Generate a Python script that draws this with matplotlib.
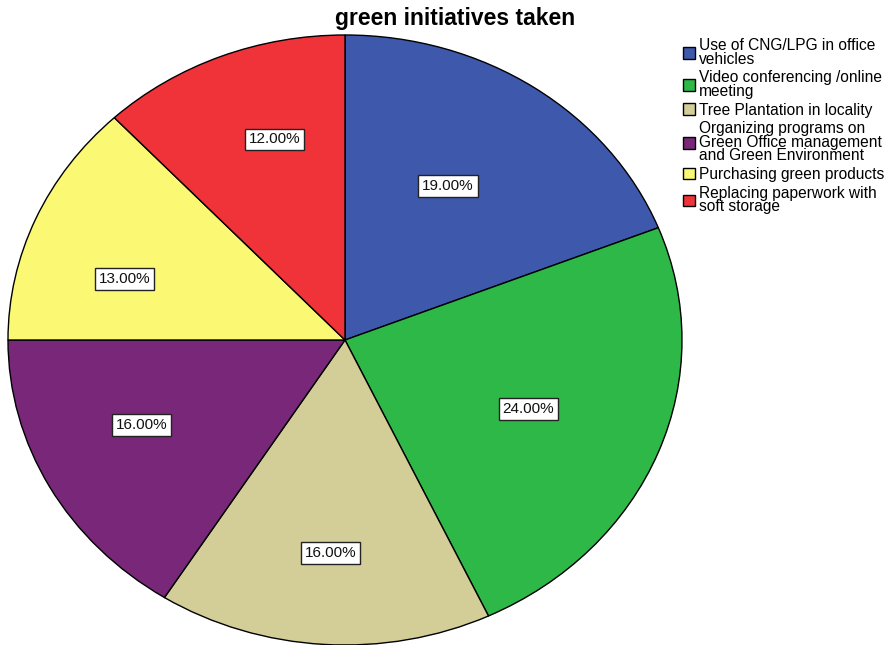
import matplotlib
matplotlib.use("Agg")
import numpy as np
import matplotlib.pyplot as plt

plt.rcParams['font.family'] = ['Liberation Sans', 'DejaVu Sans']

categories = [
    "Use of CNG/LPG in office\nvehicles",
    "Video conferencing /online\nmeeting",
    "Tree Plantation in locality",
    "Organizing programs on\nGreen Office management\nand Green Environment",
    "Purchasing green products",
    "Replacing paperwork with\nsoft storage",
]
shares = [19.0, 24.0, 16.0, 16.0, 13.0, 12.0]
colors = ["#3E58AC", "#2EB848", "#D3CD97", "#792779", "#FBF873", "#EF3338"]
# placement of each percentage label: radial fraction and angular nudge (deg)
label_dist = [0.59, 0.59, 0.70, 0.665, 0.685, 0.69]
label_nudge = [3.0, -1.0, 0.0, -4.0, 6.4, -4.0]

W, H = 896, 645
fig = plt.figure(figsize=(W / 100, H / 100), dpi=100)

# pie occupies an elliptical region (wider than tall)
left, right, top, bottom = 8, 682, 35, 645
ax = fig.add_axes([left / W, 1 - bottom / H, (right - left) / W, (bottom - top) / H])
wedges, texts, autotexts = ax.pie(
    shares, colors=colors, startangle=90, counterclock=False,
    autopct=lambda p: f"{p:.2f}%", pctdistance=0.6,
    wedgeprops=dict(edgecolor="black", linewidth=1.0),
    textprops=dict(fontsize=11, color="#111111"),
)
for w, t, d, n in zip(wedges, autotexts, label_dist, label_nudge):
    mid = np.deg2rad((w.theta1 + w.theta2) / 2 + n)
    t.set_position((d * np.cos(mid), d * np.sin(mid)))
    t.set_bbox(dict(boxstyle="square,pad=0.25", facecolor="white", edgecolor="#222222", linewidth=1.0))
ax.set_aspect("auto")
ax.set_xlim(-1, 1)
ax.set_ylim(-1, 1)
ax.axis("off")

fig.text(455 / W, 1 - 18 / H, "green initiatives taken", ha="center", va="center",
         fontsize=16.5, fontweight="bold")

leg = fig.legend(wedges, categories, loc="upper left", bbox_to_anchor=(683 / W, 1 - 38 / H),
                 frameon=False, fontsize=11.2, handlelength=0.75, handleheight=0.75,
                 handletextpad=0.3, labelspacing=0.24, borderaxespad=0, borderpad=0)
for t in leg.get_texts():
    t.set_linespacing(0.88)
for h in leg.legend_handles:
    h.set_edgecolor("black")
    h.set_linewidth(1.0)

fig.savefig("out.png", dpi=100)
